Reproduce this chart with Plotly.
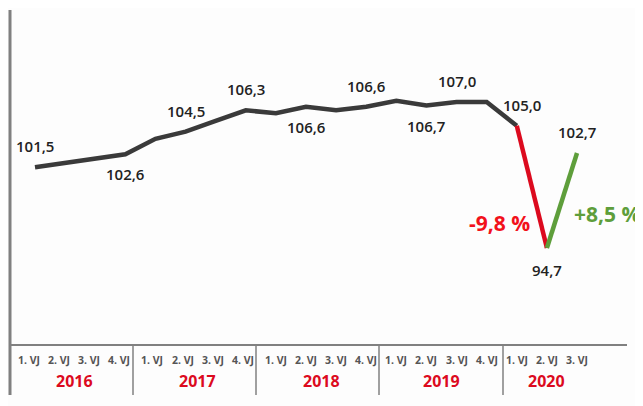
import plotly.graph_objects as go

years = ["2016", "2017", "2018", "2019", "2020"]
quarters_per_year = [4, 4, 4, 4, 3]
quarter_labels = ["1. VJ", "2. VJ", "3. VJ", "4. VJ"]

values = [101.5, 101.85, 102.2, 102.6,
          103.9, 104.5, 105.4, 106.3,
          106.05, 106.6, 106.3, 106.6,
          107.1, 106.7, 107.0, 107.0,
          105.0, 94.7, 102.7]

# labelled points: (index, text, position)
labels = [(0, "101,5", "above"), (3, "102,6", "below"), (5, "104,5", "above"),
          (7, "106,3", "above"), (9, "106,6", "below"), (11, "106,6", "above"),
          (13, "106,7", "below"), (14, "107,0", "above"), (16, "105,0", "above"),
          (17, "94,7", "below"), (18, "102,7", "above")]
change_down = "-9,8 %"
change_up = "+8,5 %"

GRAY = "#3a3a3a"
RED = "#dc0a1e"
RED_TEXT = "#f2111b"
GREEN = "#5e9e3b"
AXIS = "#808080"
FONT = "Open Sans"
BG = "#fdfdfd"

x = list(range(len(values)))

fig = go.Figure()
fig.add_trace(go.Scatter(x=x[:17], y=values[:17], mode="lines",
                         line=dict(color=GRAY, width=4.5), hoverinfo="skip"))
fig.add_trace(go.Scatter(x=x[16:18], y=values[16:18], mode="lines",
                         line=dict(color=RED, width=4.5), hoverinfo="skip"))
fig.add_trace(go.Scatter(x=x[17:19], y=values[17:19], mode="lines",
                         line=dict(color=GREEN, width=4.5), hoverinfo="skip"))

ann = []
for i, t, pos in labels:
    ann.append(dict(x=x[i], y=values[i], text=t, showarrow=False,
                    xref="x", yref="y",
                    yshift=21 if pos == "above" else (-22 if i == 17 else -20),
                    xshift=5 if i == 16 else 0,
                    font=dict(family=FONT, size=15, color="#222222", weight=600)))

ann.append(dict(x=16.5, y=(values[16] + values[17]) / 2, text=change_down, showarrow=False,
                xref="x", yref="y", xshift=-32, yshift=-36,
                font=dict(family=FONT, size=21, color=RED_TEXT, weight=700)))
ann.append(dict(x=17.5, y=(values[17] + values[18]) / 2, text=change_up, showarrow=False,
                xref="x", yref="y", xshift=45, yshift=-13,
                font=dict(family=FONT, size=21, color=GREEN, weight=700)))

# quarter ticks and year labels
k = 0
for yi, (yr, n) in enumerate(zip(years, quarters_per_year)):
    start = k
    for q in range(n):
        ann.append(dict(x=k, y=0, xref="x", yref="paper", text=quarter_labels[q],
                        showarrow=False, yanchor="middle", yshift=-15,
                        xshift=-6 if yi == 0 else (-3 if yi == 1 else 0),
                        font=dict(family=FONT, size=10.5, color="#555555", weight=700)))
        k += 1
    center = (start + 1.5) if n == 4 else (start + 1)
    ann.append(dict(x=center, y=0, xref="x", yref="paper", text=yr,
                    showarrow=False, yanchor="middle", yshift=-36,
                    xshift=-6 if yi == 0 else (-3 if yi == 1 else 0),
                    font=dict(family=FONT, size=16, color=RED, weight=700)))

# page has an 8px body margin; figure sized to fit the window
W, H = 635, 398
L, T, B = 2, 2, 61
pw = 617
R = W - L - pw
ph = H - T - B

shapes = [
    dict(type="line", xref="paper", yref="paper", x0=0, x1=0, y0=1, y1=-50 / ph,
         line=dict(color=AXIS, width=3)),
    dict(type="line", xref="paper", yref="paper", x0=0, x1=1, y0=0, y1=0,
         line=dict(color=AXIS, width=2)),
]
for px in [133, 256, 379, 503]:
    xp = (px - 10) / pw
    shapes.append(dict(type="line", xref="paper", yref="paper", x0=xp, x1=xp,
                       y0=0, y1=-50 / ph, line=dict(color=AXIS, width=1.5)))

fig.update_layout(
    width=W, height=H,
    margin=dict(l=L, r=R, t=T, b=B),
    paper_bgcolor=BG, plot_bgcolor=BG,
    showlegend=False,
    xaxis=dict(range=[-0.83, 19.66], showgrid=False, zeroline=False,
               showticklabels=False, showline=False, fixedrange=True),
    yaxis=dict(range=[86.53, 114.75], showgrid=False, zeroline=False,
               showticklabels=False, showline=False, fixedrange=True),
    annotations=ann, shapes=shapes,
)

fig.write_html("out.html")
